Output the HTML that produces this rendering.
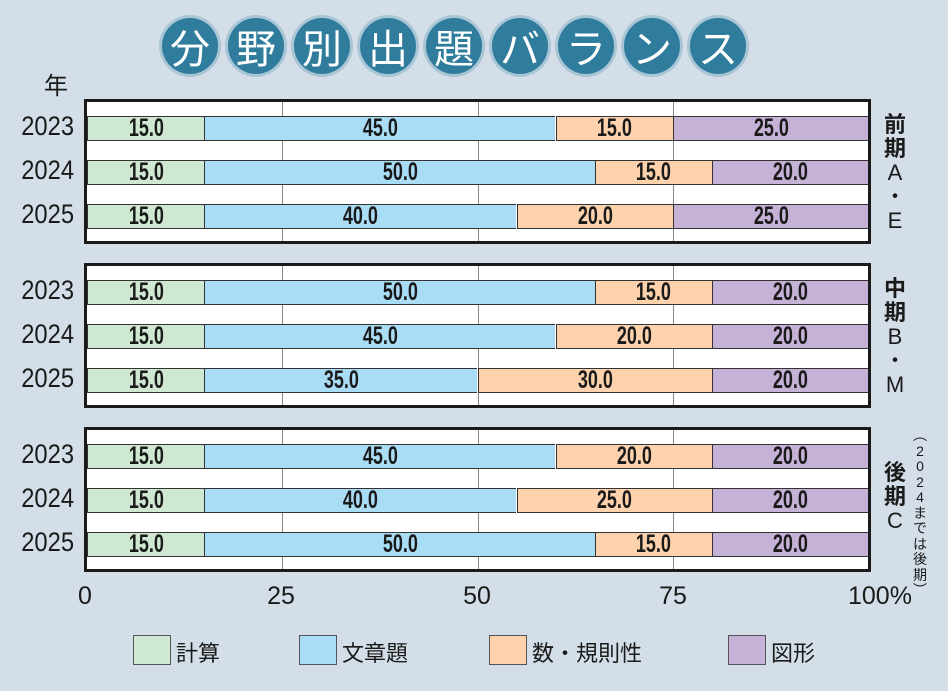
<!DOCTYPE html>
<html><head><meta charset="utf-8"><style>
body{margin:0;width:948px;height:691px;background:#d4dee8;position:relative;overflow:hidden;font-family:"Liberation Sans","Noto Sans CJK JP",sans-serif;}
.a{position:absolute}
.c{position:absolute;width:56px;height:56px;border-radius:50%;background:#2f7c9c;box-shadow:0 0 0 3px #a9c6d6;color:#fff;font-size:40px;line-height:56px;text-align:center;top:18px;font-family:"Noto Sans CJK JP",sans-serif;}
.panel{position:absolute;left:84px;width:781px;border:3px solid #1a1a1a;background:#fff}
.seg{position:absolute;height:23px;border-top:1px solid #333;border-bottom:1px solid #333;border-left:1px solid #333;box-sizing:content-box;text-align:center;font-weight:bold;font-size:25px;line-height:23px;color:#1a1a1a;font-family:"Liberation Sans",sans-serif}
.g{position:absolute;top:0;bottom:0;width:1px;background:#888}
.yr{position:absolute;left:4px;width:70px;text-align:right;font-size:27px;color:#1a1a1a}
.yr span{display:inline-block;transform:scaleX(0.88);transform-origin:right}
.rt{position:absolute;left:880px;width:30px;text-align:center;font-size:22px;line-height:24px;color:#1a1a1a}
.tk{position:absolute;top:582px;font-size:25px;color:#1a1a1a;width:60px;text-align:center}
.lb{position:absolute;top:635px;width:36px;height:28px;border:1px solid #555}
.lt{position:absolute;top:636px;font-size:22px;color:#1a1a1a}
</style></head><body>
<div class="c" style="left:162px">分</div><div class="c" style="left:228px">野</div><div class="c" style="left:294px">別</div><div class="c" style="left:360px">出</div><div class="c" style="left:426px">題</div><div class="c" style="left:492px">バ</div><div class="c" style="left:558px">ラ</div><div class="c" style="left:624px">ン</div><div class="c" style="left:690px">ス</div>
<div class="a" style="left:44px;top:66px;font-size:24px;color:#1a1a1a">年</div>
<div id="root"></div>
<div class="rt" style="top:113px"><b>前<br>期</b><br>A<br>・<br>E</div>
<div class="rt" style="top:277px"><b>中<br>期</b><br>B<br>・<br>M</div>
<div class="rt" style="top:461px"><b>後<br>期</b><br>C</div>
<div class="a" style="left:912px;top:428px;width:16px;font-size:14px;line-height:15.5px;text-align:center;color:#1a1a1a">︵<br>2<br>0<br>2<br>4<br>ま<br>で<br>は<br>後<br>期<br>︶</div>
<div class="tk" style="left:55px">0</div><div class="tk" style="left:251px">25</div><div class="tk" style="left:447px">50</div><div class="tk" style="left:643px">75</div>
<div class="a" style="left:848px;top:582px;font-size:25px;color:#1a1a1a">100%</div>
<div class="lb" style="left:133px;background:#cfe8d2"></div><div class="lt" style="left:176px">計算</div>
<div class="lb" style="left:299px;background:#a9ddf6"></div><div class="lt" style="left:342px">文章題</div>
<div class="lb" style="left:489px;background:#fdd2ac"></div><div class="lt" style="left:532px">数・規則性</div>
<div class="lb" style="left:728px;background:#c6b1d7"></div><div class="lt" style="left:771px">図形</div>
<script>
var data=[[[15,45,15,25],[15,50,15,20],[15,40,20,25]],[[15,50,15,20],[15,45,20,20],[15,35,30,20]],[[15,45,20,20],[15,40,25,20],[15,50,15,20]]];
var cols=["#cfe8d2","#a9ddf6","#fdd2ac","#c6b1d7"];
var tops=[99,263,427];var h="";var sc=781/100;
data.forEach(function(p,pi){
 var t=tops[pi];
 h+='<div class="panel" style="top:'+t+'px;height:139px">';
 [25,50,75].forEach(function(v){h+='<div class="g" style="left:'+Math.round(v*sc)+'px"></div>';});
 p.forEach(function(r,ri){
  var y=14+ri*44,x=0;
  r.forEach(function(v,ci){
   var w=v*sc;
   h+='<div class="seg" style="top:'+y+'px;left:'+x.toFixed(1)+'px;width:'+(w-1).toFixed(1)+'px;background:'+cols[ci]+'"><span style="display:inline-block;transform:scaleX(0.72)">'+v.toFixed(1)+'</span></div>';
   x+=w;});
 });
 h+='</div>';
 p.forEach(function(r,ri){h+='<div class="yr" style="top:'+(t+12+ri*44)+'px"><span>'+(2023+ri)+'</span></div>';});
});
document.getElementById('root').innerHTML=h;
</script>
</body></html>
